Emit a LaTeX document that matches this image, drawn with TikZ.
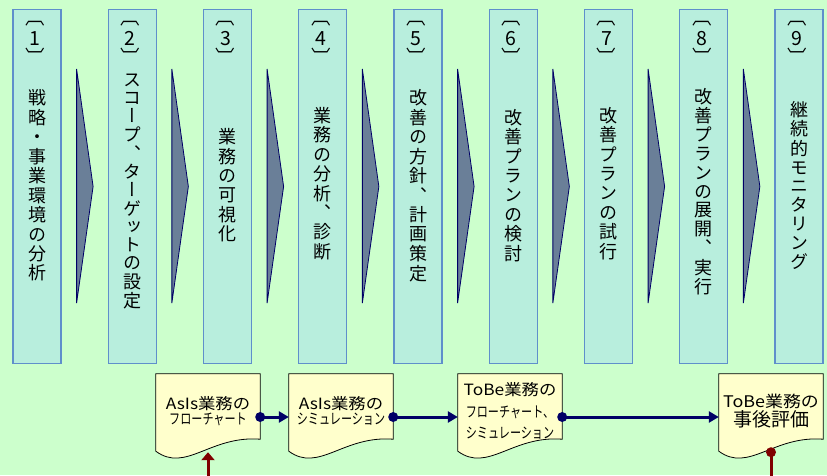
\documentclass[tikz,border=0pt]{standalone}
\usepackage{fontspec}
\setmainfont{Noto Sans CJK JP}
\newfontfamily\jp{Noto Sans CJK JP}
\newfontfamily\jpv[RawFeature=+vert]{Noto Sans CJK JP}
\newfontfamily\jpw[FakeStretch=1.12]{Noto Sans CJK JP}
\newfontfamily\jpn[FakeStretch=0.74]{Noto Sans CJK JP}
\usetikzlibrary{arrows.meta,calc}
\definecolor{bgc}{HTML}{CCFFCC}
\definecolor{colfill}{HTML}{B8EEDD}
\definecolor{coledge}{HTML}{5F8FCB}
\definecolor{chevfill}{HTML}{6A7F98}
\definecolor{navy}{HTML}{000066}
\definecolor{docfill}{HTML}{FFFFCC}
\definecolor{dred}{HTML}{800000}
\makeatletter
\def\vtext#1#2#3{\vbox{\offinterlineskip\def\vt@h{#1}\def\vt@d{#2}\vtext@a#3\relax}}
\def\vtext@a#1{\ifx\relax#1\else\hbox to 24pt{\hss\vrule height \vt@h\space depth \vt@d\space width 0pt\relax #1\hss}\expandafter\vtext@a\fi}
\makeatother
\pgfdeclarelayer{back}
\pgfdeclarelayer{mid}
\pgfsetlayers{back,mid,main}
\tikzset{
  colbox/.style={draw=coledge, line width=1.2pt, fill=colfill, minimum width=48pt, minimum height=354pt, inner sep=0pt},
  bracktext/.style={inner sep=0pt, anchor=base, font=\jpv\fontsize{19.5}{19.5}\selectfont},
  numtext/.style={inner sep=0pt, anchor=base, font=\jp\fontsize{19.5}{19.5}\selectfont},
  coltext/.style={inner sep=0pt, font=\jpv\fontsize{18}{19}\selectfont},
  chev/.style={fill=chevfill, draw=navy, line width=0.8pt, line join=miter},
  docbox/.style={minimum width=104pt, minimum height=74pt, inner sep=0pt, align=center},
  docline/.style={fill=docfill, draw=black, line width=0.8pt},
  conn/.style={draw=navy, line width=3pt, -{Triangle[length=10pt,width=11pt]}},
  dot/.style={fill=navy},
  redline/.style={draw=dred, line width=3pt},
}
\begin{document}
\begin{tikzpicture}[x=1pt,y=-1pt]
\begin{pgfonlayer}{back}
\fill[bgc] (0,0) rectangle (827,475);
\end{pgfonlayer}
\useasboundingbox (0,0) rectangle (827,475);
% column boxes
\foreach \i in {1,...,9}{
  \node[colbox] (c\i) at ({37+95.25*(\i-1)},186.5) {};
}
% bracketed step numbers
\foreach \i in {1,...,9}{
  \node[bracktext] (bo\i) at ({35+95.25*(\i-1)},24.5) {〔};
  \node[numtext] (n\i) at ({35+95.25*(\i-1)},45) {\i};
  \node[bracktext] (bc\i) at ({35+95.25*(\i-1)},64.5) {〕};
}
% column texts
\node[coltext] (t1) at (37,187) {\vtext{14.8pt}{4.5pt}{戦略・事業環境の分析}};
\node[coltext] (t2) at (132.25,192) {\vtext{14pt}{4pt}{スコープ、ターゲットの設定}};
\node[coltext] (t3) at (227.5,187) {\vtext{14.8pt}{4.5pt}{業務の可視化}};
\node[coltext] (t4) at (322.75,185) {\vtext{14.8pt}{4.5pt}{業務の分析、診断}};
\node[coltext] (t5) at (418,187) {\vtext{14.8pt}{4.5pt}{改善の方針、計画策定}};
\node[coltext] (t6) at (513.25,187) {\vtext{14.8pt}{4.5pt}{改善プランの検討}};
\node[coltext] (t7) at (608.5,185) {\vtext{14.8pt}{4.5pt}{改善プランの試行}};
\node[coltext] (t8) at (703.75,193) {\vtext{14.5pt}{4.3pt}{改善プランの展開、実行}};
\node[coltext] (t9) at (799,187) {\vtext{14.5pt}{4.3pt}{継続的モニタリング}};
% chevrons
\foreach \i in {1,...,8}{
  \draw[chev] ($(c\i.east)+(15,-117.5)$) -- ($(c\i.east)+(31.5,0)$) -- ($(c\i.east)+(15,116.5)$) -- cycle;
}
% document boxes
\node[docbox] (d1) at (208,411) {{\jpw\fontsize{15.5}{21}\selectfont AsIs業務の}\\[1pt]{\jpn\fontsize{15}{21}\selectfont フローチャート}};
\node[docbox] (d2) at (341,411) {{\jpw\fontsize{15.5}{21}\selectfont AsIs業務の}\\[1pt]{\jpn\fontsize{15}{21}\selectfont シミュレーション}};
\node[docbox, font=\fontsize{15}{21.5}\selectfont] (d3) at (510,411) {{\jpw\fontsize{15.5}{21.5}\selectfont ToBe業務の}\\{\jpn\fontsize{15}{21.5}\selectfont フローチャート、}\\{\jpn\fontsize{15}{21.5}\selectfont シミュレーション}};
\node[docbox] (d4) at (771,411) {{\jpw\fontsize{16}{22}\selectfont ToBe業務の}\\{\jp\fontsize{19}{22}\selectfont 事後評価}};
\begin{pgfonlayer}{mid}
\foreach \d in {d1,d2,d3,d4}{
  \draw[docline] (\d.north west) -- (\d.north east) -- ([yshift=9pt]\d.south east)
    .. controls +(-50,-4) and +(30,22) .. ([yshift=-3pt]\d.south west) -- cycle;
}
\end{pgfonlayer}
% connectors
\fill[dot] ([yshift=-6pt]d1.east) circle (5pt);
\draw[conn] ([yshift=-6pt]d1.east) -- ([yshift=-6pt]d2.west);
\fill[dot] ([yshift=-6pt]d2.east) circle (5pt);
\draw[conn] ([yshift=-6pt]d2.east) -- ([yshift=-6pt]d3.west);
\fill[dot] ([yshift=-6pt]d3.east) circle (5pt);
\draw[conn] ([yshift=-6pt]d3.east) -- ([yshift=-6pt]d4.west);
\coordinate (rin) at (208,478);
\draw[redline, -{Triangle[length=8pt,width=13pt]}] (rin) -- ([yshift=-4pt]d1.south);
\coordinate (rout) at (771,478);
\draw[redline] ([yshift=-4pt]d4.south) -- (rout);
\fill[dred] ([yshift=-4pt]d4.south) circle (5pt);
\end{tikzpicture}
\end{document}
